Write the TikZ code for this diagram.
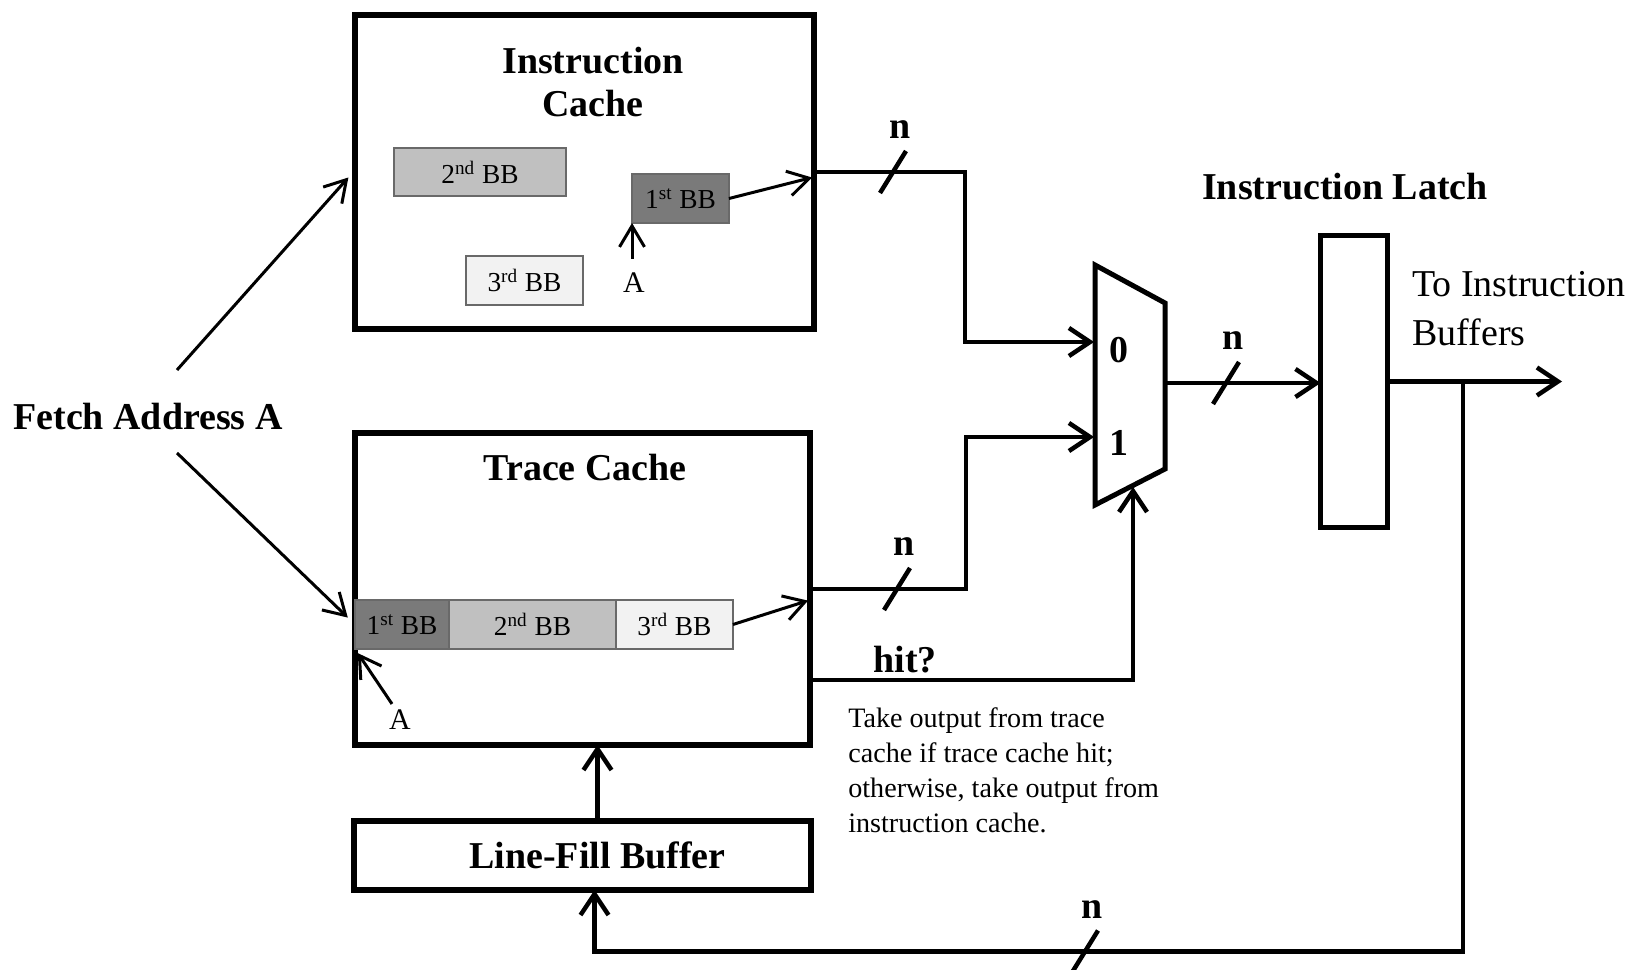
\documentclass[tikz,border=0pt]{standalone}
\usepackage{fontspec}
\setmainfont{Liberation Serif}
\usetikzlibrary{arrows.meta,positioning}

\definecolor{bbdark}{RGB}{122,122,122}
\definecolor{bbmid}{RGB}{192,192,192}
\definecolor{bblight}{RGB}{242,242,242}
\definecolor{bbedge}{RGB}{105,105,105}

\tikzset{
  bigbox/.style={draw,line width=0.12cm,inner sep=0pt,outer sep=0pt},
  bbox/.style={draw=bbedge,line width=0.04cm,minimum height=0.98cm,inner sep=0pt,outer sep=0pt,font=\fontsize{15.6}{18}\selectfont},
  wire/.style={line width=0.09cm},
  arr/.style={wire,-{Straight Barb[length=0.42cm,width=0.56cm]}},
  thinarr/.style={line width=0.06cm,-{Straight Barb[length=0.42cm,width=0.5cm]}},
  ttl/.style={font=\fontsize{21.6}{24.4}\selectfont\bfseries,align=center},
  lbl/.style={font=\fontsize{21.6}{26}\selectfont\bfseries,inner sep=0pt},
  addr/.style={font=\fontsize{17}{20}\selectfont},
  txt/.style={font=\fontsize{16}{19.9}\selectfont,align=left,inner sep=0pt},
  txtbig/.style={font=\fontsize{21.6}{27.8}\selectfont,align=left,inner sep=0pt},
  bus/.pic={
    \draw[wire] (-13,21) -- (13,-21);
    \node[lbl] (-n) at (7,-42) {n};
  }
}

\begin{document}
\begin{tikzpicture}[x=0.02cm,y=-0.02cm]
\useasboundingbox (0,0) rectangle (1644,970);

% instruction cache
\node[bigbox,minimum width=9.18cm,minimum height=6.28cm] (ic) at (584.5,172) {};
\node[ttl] (ictitle) at (593,82) {Instruction\\Cache};
\node[bbox,fill=bbmid,minimum width=3.44cm] (ic2) at (480,172) {2\textsuperscript{nd} BB};
\node[bbox,fill=bbdark,minimum width=1.94cm] (ic1) at (680.5,198.5) {1\textsuperscript{st} BB};
\node[bbox,fill=bblight,minimum width=2.34cm] (ic3) at (524.5,280.5) {3\textsuperscript{rd} BB};
\node[addr] (ica) at (634,283) {A};
\draw[thinarr,shorten <=0.16cm] (ic1.south west |- ica.north) -- (ic1.south west);
\draw[thinarr,shorten >=0.04cm] (ic1.east) -- ([yshift=-0.1cm]ic.east);

% trace cache
\node[bigbox,minimum width=9.1cm,minimum height=6.24cm] (tc) at (582.5,589) {};
\node[ttl] (tctitle) at (585,468) {Trace Cache};
\node[bbox,fill=bbdark,minimum width=1.88cm] (tc1) at (402,624.5) {1\textsuperscript{st} BB};
\node[bbox,fill=bbmid,minimum width=3.34cm,right=0pt of tc1] (tc2) {2\textsuperscript{nd} BB};
\node[bbox,fill=bblight,minimum width=2.34cm,right=0pt of tc2] (tc3) {3\textsuperscript{rd} BB};
\node[addr] (tca) at (400,720) {A};
\draw[thinarr,shorten >=0.1cm] ([xshift=-0.16cm]tca.north) -- (tc1.south west);
\draw[thinarr,shorten >=0.04cm] (tc3.east) -- ([yshift=-0.22cm]tc.east);

% line-fill buffer
\node[bigbox,ttl,minimum width=9.14cm,minimum height=1.38cm] (lfb) at (582.5,855.5) {\hspace*{0.6cm}Line-Fill Buffer};
\draw[arr] ([xshift=0.3cm]lfb.north) -- ([xshift=0.3cm]tc.south);

% fetch address
\node[lbl] (fetch) at (148,417) {Fetch Address A};
\coordinate (fetch-up) at (177,370);
\coordinate (fetch-dn) at (177,453);
\draw[thinarr,shorten >=0.2cm] (fetch-up) -- ([yshift=0.04cm]ic.west);
\draw[thinarr,shorten >=0.2cm] (fetch-dn) -- (tc1.west);

% mux
\draw[line width=0.1cm] (1095,265) -- (1165,303) -- (1165,469) -- (1095,505) -- cycle;
\coordinate (mux-in0) at (1094,342);
\coordinate (mux-in1) at (1094,437);
\coordinate (mux-out) at (1165,383);
\coordinate (mux-sel) at (1133,487);
\node[lbl] (zero) at (1119,350) {0};
\node[lbl] (one) at (1119,443) {1};

% latch
\node[draw,line width=0.1cm,minimum width=1.34cm,minimum height=5.84cm,inner sep=0pt,outer sep=0pt] (latch) at (1354,381.5) {};
\node[ttl] (latchtitle) at (1345,187) {Instruction Latch};
\coordinate (buf-out) at (1562,381.5);
\coordinate (tap) at (1463,381.5);
\node[txtbig,anchor=north west] (tobuf) at (1412,271) {To Instruction\\Buffers};

% wires
\draw[arr] (ic.east) -- ++(151,0) |- (mux-in0);
\draw[arr] (tc.east) -- ++(156,0) |- (mux-in1);
\draw[arr] ([yshift=-1.82cm]tc.east) -| (mux-sel);
\node[lbl] (hit) at (905,660) {hit?};
\draw[arr] (mux-out) -- (mux-out -| latch.west);
\draw[arr] (latch.east) -- (buf-out);
\draw[arr] (tap) -- ++(0,570) -| ([xshift=0.24cm]lfb.south);

\pic (busic) at (893,172) {bus};
\pic (bustc) at (897,589) {bus};
\pic (busmux) at (1226,383) {bus};
\pic (busfb) at (1085,951.5) {bus};

\node[txt,anchor=north west] (note) at (848,707) {Take output from trace\\cache if trace cache hit;\\otherwise, take output from\\instruction cache.};
\end{tikzpicture}
\end{document}
